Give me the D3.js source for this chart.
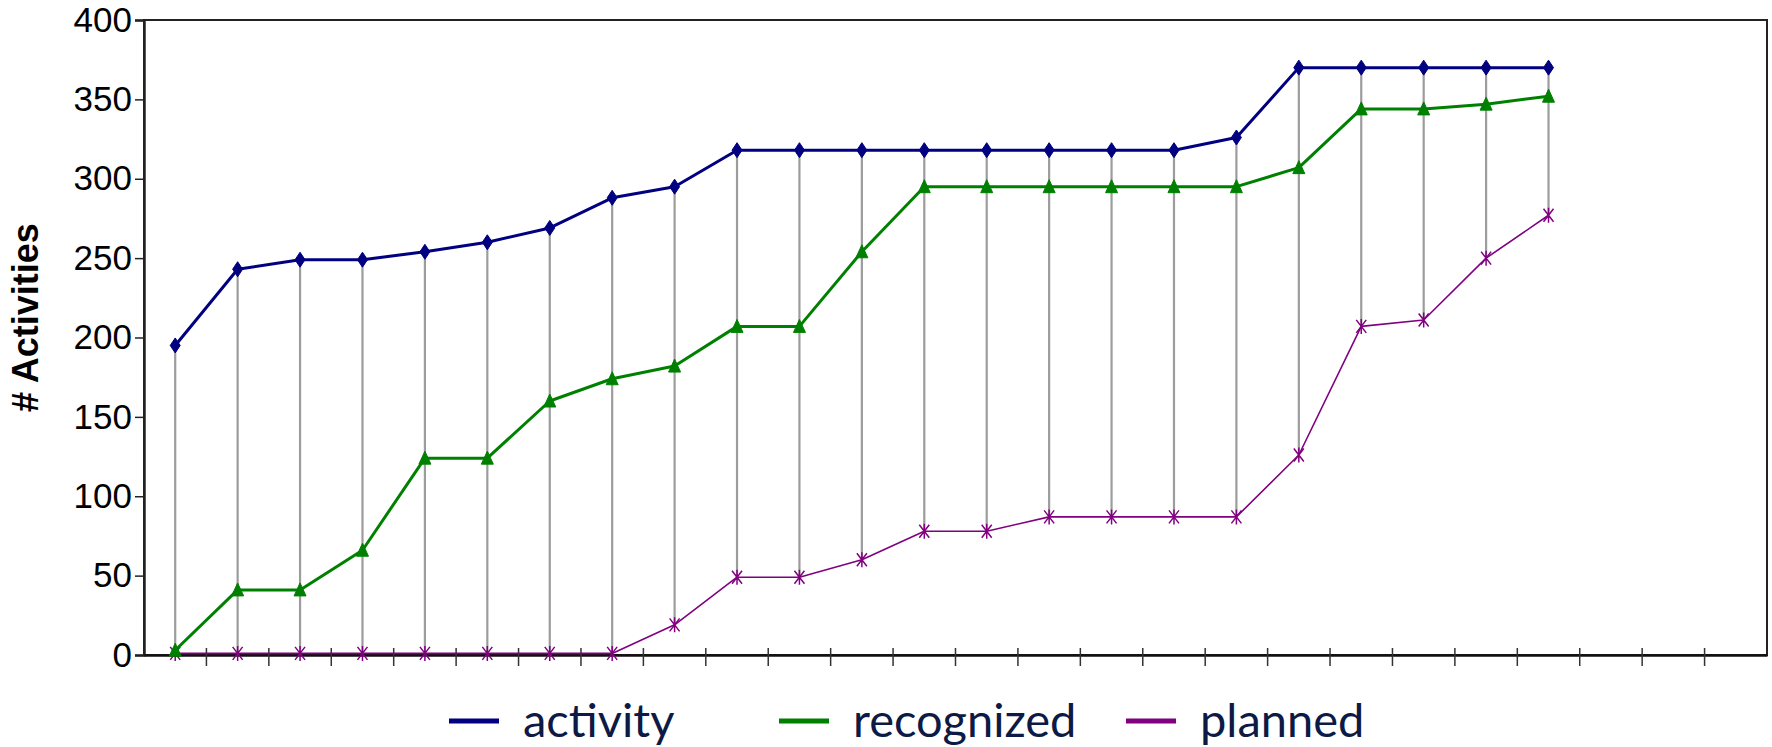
<!DOCTYPE html>
<html>
<head>
<meta charset="utf-8">
<script src="https://cdn.jsdelivr.net/npm/d3@7"></script>
<style>
  body { margin: 0; background: #fff; }
  #chart { width: 1772px; height: 747px; }
</style>
</head>
<body>
<div id="chart"></div>
<script>
// 23 snapshots on a 26-slot axis
const slots = d3.range(26)
const activity = [195, 243, 249, 249, 254, 260, 269, 288, 295, 318, 318, 318, 318, 318, 318, 318, 318, 326, 370, 370, 370, 370, 370]
const recognized = [3, 41, 41, 66, 124, 124, 160, 174, 182, 207, 207, 254, 295, 295, 295, 295, 295, 295, 307, 344, 344, 347, 352]
const planned = [1, 1, 1, 1, 1, 1, 1, 1, 19, 49, 49, 60, 78, 78, 87, 87, 87, 87, 126, 207, 211, 250, 277]
const yTicks = [0, 50, 100, 150, 200, 250, 300, 350, 400]
const seriesNames = ['activity', 'recognized', 'planned']

const width = 1772
const height = 747
const plotLeft = 144
const plotRight = 1767
const plotTop = 20
const plotBottom = 655

const svg = d3.select('#chart')
  .append('svg')
  .attr('width', width)
  .attr('height', height)

const x = d3.scaleBand().domain(slots).range([plotLeft, plotRight])
const y = d3.scaleLinear().domain([0, 400]).range([plotBottom, plotTop])
const cx = i => x(i) + x.bandwidth() / 2

const series = [
  { name: seriesNames[0], values: activity, color: '#000080', width: 3, marker: 'diamond' },
  { name: seriesNames[1], values: recognized, color: '#008000', width: 3, marker: 'triangle' },
  { name: seriesNames[2], values: planned, color: '#800080', width: 1.6, marker: 'star' }
]

// frame
svg.append('rect')
  .attr('x', plotLeft).attr('y', plotTop)
  .attr('width', plotRight - plotLeft).attr('height', plotBottom - plotTop)
  .attr('fill', 'none').attr('stroke', '#222').attr('stroke-width', 2)

// y axis
const yAxis = svg.append('g')
  .attr('transform', `translate(${plotLeft},0)`)
  .call(d3.axisLeft(y).tickValues(yTicks).tickSize(9).tickPadding(3))
yAxis.select('.domain').attr('stroke', '#222').attr('stroke-width', 2.5)
yAxis.selectAll('.tick line').attr('stroke', '#222').attr('stroke-width', 1.5)
yAxis.selectAll('.tick text')
  .attr('font-family', 'Liberation Sans, Arial, sans-serif')
  .attr('font-size', 35)
  .attr('fill', '#000')

// x axis: ticks on slot boundaries
const xAxis = svg.append('g')
  .attr('transform', `translate(0,${plotBottom})`)
  .call(d3.axisBottom(x).tickSize(0).tickFormat(''))
xAxis.select('.domain').attr('stroke', '#111').attr('stroke-width', 2.5)
xAxis.selectAll('.tick').remove()
xAxis.selectAll('line.bound')
  .data(d3.range(1, 26))
  .enter()
  .append('line')
  .attr('class', 'bound')
  .attr('x1', d => x(d)).attr('x2', d => x(d))
  .attr('y1', -7).attr('y2', 11)
  .attr('stroke', '#333').attr('stroke-width', 1.5)

// y title
svg.append('text')
  .attr('transform', `translate(38,${(plotTop + plotBottom) / 2 - 20}) rotate(-90)`)
  .attr('text-anchor', 'middle')
  .attr('font-family', 'Liberation Sans, Arial, sans-serif')
  .attr('font-weight', 'bold')
  .attr('font-size', 36)
  .text('# Activities')

// drop lines from activity down to planned
svg.append('g').selectAll('line')
  .data(activity)
  .enter()
  .append('line')
  .attr('x1', (d, i) => cx(i)).attr('x2', (d, i) => cx(i))
  .attr('y1', d => y(d))
  .attr('y2', (d, i) => y(planned[i]))
  .attr('stroke', '#9c9c9c')
  .attr('stroke-width', 2.2)

const line = d3.line()
  .x((d, i) => cx(i))
  .y(d => y(d))

const markerPath = {
  diamond: 'M0,-7.5L5,0L0,7.5L-5,0Z',
  triangle: 'M0,-7L6,6L-6,6Z',
  star: 'M-5,-6.5L5,6.5M5,-6.5L-5,6.5M0,-7.5L0,7.5'
}

// draw in reverse so activity stays on top
series.slice().reverse().forEach(s => {
  svg.append('path')
    .datum(s.values)
    .attr('d', line)
    .attr('fill', 'none')
    .attr('stroke', s.color)
    .attr('stroke-width', s.width)
    .attr('stroke-linejoin', 'round')

  svg.append('g').selectAll('path')
    .data(s.values)
    .enter()
    .append('path')
    .attr('transform', (d, i) => `translate(${cx(i)},${y(d)})`)
    .attr('d', markerPath[s.marker])
    .attr('fill', s.marker === 'star' ? 'none' : s.color)
    .attr('stroke', s.color)
    .attr('stroke-width', s.marker === 'star' ? 1.5 : 1)
})

// legend
const legendX = [449, 779, 1126]
const legend = svg.append('g').attr('transform', 'translate(0,721)')
series.forEach((s, i) => {
  legend.append('line')
    .attr('x1', legendX[i]).attr('x2', legendX[i] + 50)
    .attr('y1', 0).attr('y2', 0)
    .attr('stroke', s.color)
    .attr('stroke-width', 5)
  legend.append('text')
    .attr('x', legendX[i] + 74)
    .attr('y', 16)
    .attr('font-family', 'Lato, sans-serif')
    .attr('font-size', 47)
    .attr('fill', '#0c1a45')
    .text(s.name)
})
</script>
</body>
</html>
